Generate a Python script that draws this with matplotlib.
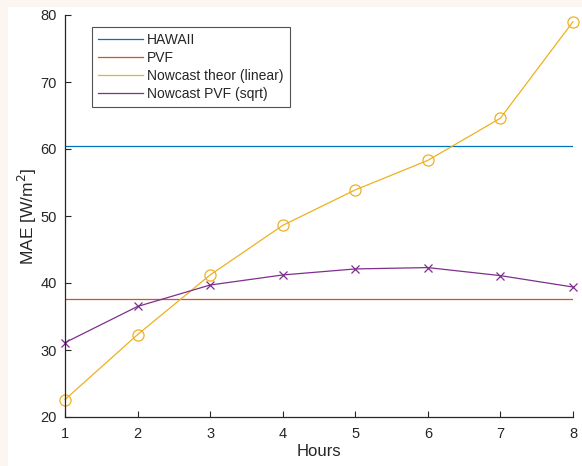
import matplotlib
matplotlib.use("Agg")
import matplotlib.pyplot as plt
from matplotlib.lines import Line2D
from matplotlib.patches import Rectangle

# data
hours = [1, 2, 3, 4, 5, 6, 7, 8]
hawaii_mae = 60.5
pvf_mae = 37.6
nowcast_theor = [22.6, 32.3, 41.2, 48.6, 53.9, 58.3, 64.6, 79.0]
nowcast_pvf = [31.1, 36.5, 39.7, 41.2, 42.1, 42.3, 41.1, 39.4]
labels = ["HAWAII", "PVF", "Nowcast theor (linear)", "Nowcast PVF (sqrt)"]

# MATLAB default colour order
C_BLUE, C_RED, C_YEL, C_PUR = "#0072BD", "#D95319", "#EDB120", "#7E2F8E"
AX_COL = "#262626"

plt.rcParams["font.family"] = ["Liberation Sans", "DejaVu Sans"]
plt.rcParams["font.size"] = 10.5

fig = plt.figure(figsize=(5.82, 4.66), dpi=100)
fig.patch.set_facecolor("#fdf5ef")
# white canvas, peach strip only on top/left (cropped screenshot look)
fig.patches.append(Rectangle((8 / 582, 0), 1, 1 - 7 / 466, transform=fig.transFigure,
                             facecolor="white", edgecolor="none", zorder=-1))

ax = fig.add_axes([65 / 582, 49 / 466, (573 - 65) / 582, (417 - 15) / 466])
ax.set_facecolor("white")

lw = 0.9
ax.plot([hours[0], hours[-1]], [hawaii_mae, hawaii_mae], color=C_BLUE, lw=lw)
ax.plot([hours[0], hours[-1]], [pvf_mae, pvf_mae], color=C_RED, lw=lw)
ax.plot(hours, nowcast_theor, color=C_YEL, lw=lw, marker="o", ms=8,
        mfc="none", mec=C_YEL, mew=0.9, clip_on=False)
ax.plot(hours, nowcast_pvf, color=C_PUR, lw=lw, marker="x", ms=6,
        mec=C_PUR, mew=0.9, clip_on=False)

ax.set_xlim(1, 8)
ax.set_ylim(20, 80)
ax.set_xticks(hours)
ax.set_yticks(range(20, 81, 10))

for s in ("top", "right"):
    ax.spines[s].set_visible(False)
for s in ("left", "bottom"):
    ax.spines[s].set_color(AX_COL)
    ax.spines[s].set_linewidth(0.9)
ax.tick_params(direction="in", length=4, width=0.8, colors=AX_COL,
               labelcolor=AX_COL, labelsize=10.5)
ax.tick_params(axis="x", pad=7)
ax.tick_params(axis="y", pad=6)

ax.set_xlabel("Hours", color=AX_COL, fontsize=12, labelpad=2)
ax.set_ylabel("MAE [W/m$^2$]", color=AX_COL, fontsize=12.5, labelpad=1)

handles = [Line2D([], [], color=c, lw=lw) for c in (C_BLUE, C_RED, C_YEL, C_PUR)]
leg = ax.legend(handles, labels, loc="upper left",
                bbox_to_anchor=(27 / 508, 1 - 12 / 402), fancybox=False,
                handlelength=3.2, handletextpad=0.3, labelspacing=0.28,
                borderpad=0.45, borderaxespad=0, fontsize=10)
leg.get_frame().set_edgecolor(AX_COL)
leg.get_frame().set_linewidth(0.8)
for t in leg.get_texts():
    t.set_color(AX_COL)

fig.savefig("out.png", dpi=100)
